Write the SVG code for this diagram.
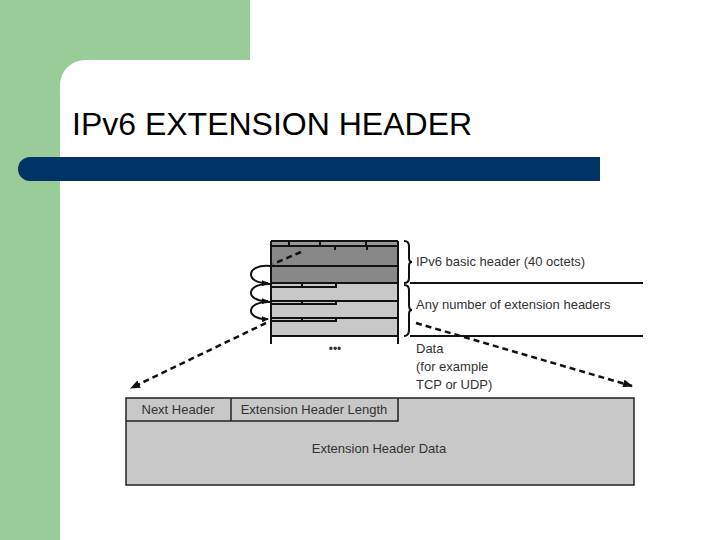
<svg xmlns="http://www.w3.org/2000/svg" width="720" height="540" viewBox="0 0 720 540">
<defs>
<style>
.t{font-family:"Liberation Sans",Arial,sans-serif;fill:#333}
.s{font-size:13px}
.k{stroke:#111;stroke-width:2;fill:none}
.d{stroke:#111;stroke-width:2.5;fill:none;stroke-dasharray:6 4}
</style>
<marker id="ah" markerWidth="10" markerHeight="8" refX="9" refY="4" orient="auto" markerUnits="userSpaceOnUse"><path d="M0,0L10,4L0,8z" fill="#111"/></marker>
<marker id="sa" markerWidth="7" markerHeight="6" refX="6" refY="3" orient="auto" markerUnits="userSpaceOnUse"><path d="M0,0L7,3L0,6z" fill="#111"/></marker>
</defs>
<rect width="720" height="540" fill="#fff"/>
<g id="bg">
<path d="M0 0H250V60H85A25 25 0 0 0 60 85V540H0Z" fill="#99CC99"/>
<path d="M30 157H600V181H30A12 12 0 0 1 30 157Z" fill="#003366"/>
</g>
<text id="title" class="t" x="72" y="135" font-size="32" fill="#000" style="fill:#000">IPv6 EXTENSION HEADER</text>
<g id="stack">
<rect x="271" y="241" width="127" height="5" fill="#999"/>
<rect x="271" y="246" width="127" height="37" fill="#888"/>
<rect x="271" y="283" width="127" height="53" fill="#c8c8c8"/>
<path class="k" d="M271 241H398M271 246H398M271 266H398M271 283H398M271 301H398M271 318H398M271 336H398M271 241V344M398 241V344" stroke-width="1.5"/>
<path class="k" stroke-width="1.3" d="M289 241V246M320 241V246M366 241V246M335 246V250M367 246V250
M271 287H336V283M302 283V287M271 304H336V301M302 301V304M271 321H336V318M302 318V321"/>
<text class="t" x="335" y="353" font-size="12" text-anchor="middle">•••</text>
</g>
<g id="labels">
<path class="k" stroke-width="1.3" d="M404 241Q409 241 409 246V258Q409 262 412 262Q409 262 409 266V278Q409 283 404 283"/>
<path class="k" stroke-width="1.3" d="M404 285Q409 285 409 290V305Q409 310 412 310Q409 310 409 314V330Q409 336 404 336"/>
<path class="k" stroke-width="1.5" d="M410 283H643M410 336H643"/>
<text class="t s" x="416" y="266">IPv6 basic header (40 octets)</text>
<text class="t s" x="416" y="309">Any number of extension headers</text>
<text class="t s" x="416" y="353">Data</text>
<text class="t s" x="416" y="371">(for example</text>
<text class="t s" x="416" y="389">TCP or UDP)</text>
</g>
<g id="connectors">
<path class="d" stroke-width="2" d="M301 252L273 264"/>
<path class="k" stroke-width="1.3" marker-end="url(#sa)" d="M270 266C245 264 245 284 268 283"/>
<path class="k" stroke-width="1.3" marker-end="url(#sa)" d="M270 284C245 283 245 302 268 301"/>
<path class="k" stroke-width="1.3" marker-end="url(#sa)" d="M270 302C245 301 245 320 268 319"/>
<path class="d" marker-end="url(#ah)" d="M266 323L131 388"/>
<path class="d" marker-end="url(#ah)" d="M416 323L632 386"/>
</g>
<g id="ext">
<rect x="126" y="398" width="508" height="87" fill="#c8c8c8" stroke="#222" stroke-width="1.5"/>
<path d="M126 421H398V398M231 398V421" stroke="#222" stroke-width="1.5" fill="none"/>
<text class="t s" x="178" y="414" text-anchor="middle">Next Header</text>
<text class="t s" x="314" y="414" text-anchor="middle">Extension Header Length</text>
<text class="t s" x="379" y="453" text-anchor="middle">Extension Header Data</text>
</g>
</svg>
